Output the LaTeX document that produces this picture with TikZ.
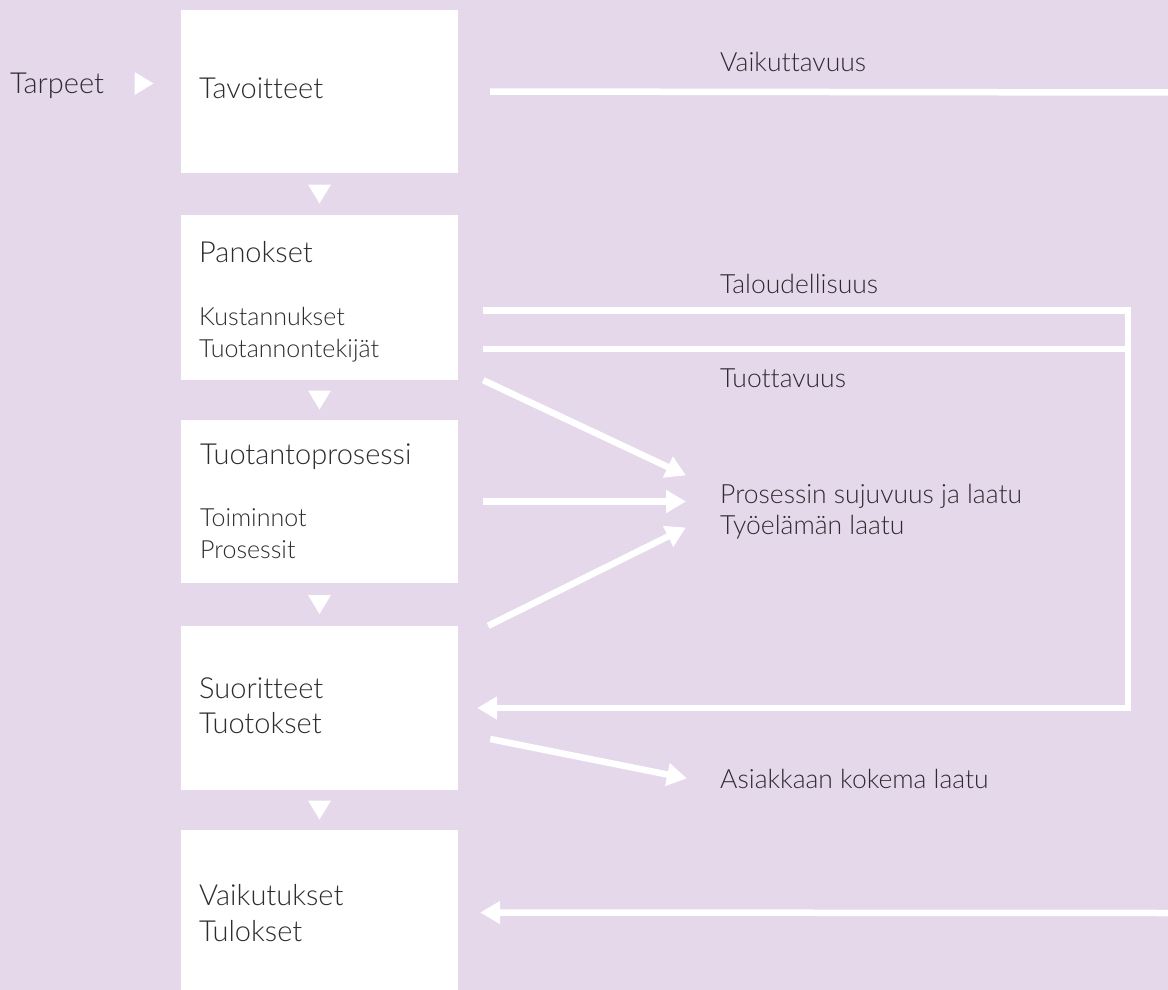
\documentclass[tikz,border=0pt]{standalone}
\usepackage{fontspec}
\setmainfont{Lato}[UprightFont=* Light, Ligatures=NoCommon]
\usetikzlibrary{arrows.meta,calc}
\definecolor{lilac}{HTML}{E6D8EB}
\definecolor{ink}{HTML}{2E2A30}
\tikzset{
  box/.style={fill=white, minimum width=277pt, inner sep=0pt},
  title/.style={anchor=base west, inner sep=0pt, text=ink, font=\fontsize{29}{35}\selectfont},
  item/.style={anchor=base west, inner sep=0pt, text=ink, font=\fontsize{25}{31}\selectfont},
  lbl/.style={anchor=base west, inner sep=0pt, text=ink, font=\fontsize{26.5}{32}\selectfont},
  flow/.style={white, line width=6.5pt},
  arr/.style={flow, -{Triangle[length=20pt,width=22pt]}},
  tip/.pic={\fill[white] (-9.5,-11.5) -- (9.5,0) -- (-9.5,11.5) -- cycle;}
}
\begin{document}
\begin{tikzpicture}[x=1pt, y=-1pt]
  \fill[lilac] (0,0) rectangle (1168,990);
  \useasboundingbox (0,0) rectangle (1168,990);

  % boxes
  \node[box, minimum height=163pt] (tav) at (319.5,91.5) {};
  \node[box, minimum height=165pt] (pan) at (319.5,297.5) {};
  \node[box, minimum height=163pt] (tuo) at (319.5,501.5) {};
  \node[box, minimum height=164pt] (suo) at (319.5,708) {};
  \node[box, minimum height=165pt] (vai) at (319.5,912.5) {};

  \node[title] (tav1) at (199,99) {Tavoitteet};
  \node[title] (pan1) at (199,262) {Panokset};
  \node[item] (pan2) at (199,325) {Kustannukset};
  \node[item] (pan3) at (199,357) {Tuotannontekijät};
  \node[title] (tuo1) at (200,464) {Tuotantoprosessi};
  \node[item] (tuo2) at (200,526) {Toiminnot};
  \node[item] (tuo3) at (200,558) {Prosessit};
  \node[title] (suo1) at (199,698) {Suoritteet};
  \node[title] (suo2) at (199,733) {Tuotokset};
  \node[title] (vai1) at (199,905) {Vaikutukset};
  \node[title] (vai2) at (199,941) {Tulokset};

  \node[title] (tar) at (10,93) {Tarpeet};
  \pic at (144,83.5) {tip};
  \pic[rotate=-90] at ($(tav.south)!0.5!(pan.north)$) {tip};
  \pic[rotate=-90] at ($(pan.south)!0.5!(tuo.north)$) {tip};
  \pic[rotate=-90] at ($(tuo.south)!0.5!(suo.north)$) {tip};
  \pic[rotate=-90] at ($(suo.south)!0.5!(vai.north)$) {tip};

  % labels on the right
  \node[lbl] (vaik) at (720,72) {Vaikuttavuus};
  \node[lbl] (talo) at (720,293) {Taloudellisuus};
  \node[lbl] (tuot) at (720,387) {Tuottavuus};
  \node[lbl] (proc1) at (720,503) {Prosessin sujuvuus ja laatu};
  \node[lbl] (proc2) at (720,534) {Työelämän laatu};
  \node[lbl] (asi) at (720,788) {Asiakkaan kokema laatu};

  \coordinate (redge1) at (1168,92.5);
  \coordinate (redge2) at (1168,913);
  \coordinate (talo0) at (483,310.5);
  \coordinate (tuot0) at (483,349);
  \coordinate (corner1) at (1128,310.5);
  \coordinate (corner2) at (1128,708);
  \coordinate (pin) at (686,501.5);

  % connectors
  \draw[flow] ([xshift=32pt]tav.east) -- (redge1);
  \draw[arr, line join=miter] (talo0) -- (corner1) -- (corner2) -- ([xshift=19pt]suo.east);
  \draw[flow] (tuot0) -- (corner1 |- tuot0);
  \draw[arr] ([xshift=25pt]pan.south east) -- ([yshift=26pt]pin);
  \draw[arr] ([xshift=25pt]tuo.east) -- (pin);
  \draw[arr] ([xshift=30pt]suo.north east) -- ([yshift=-26pt]pin);
  \draw[arr] ([xshift=32pt,yshift=-31pt]suo.east) -- ([xshift=-33pt]asi.west);
  \draw[arr] (redge2) -- ([xshift=22pt]vai.east);
\end{tikzpicture}
\end{document}
